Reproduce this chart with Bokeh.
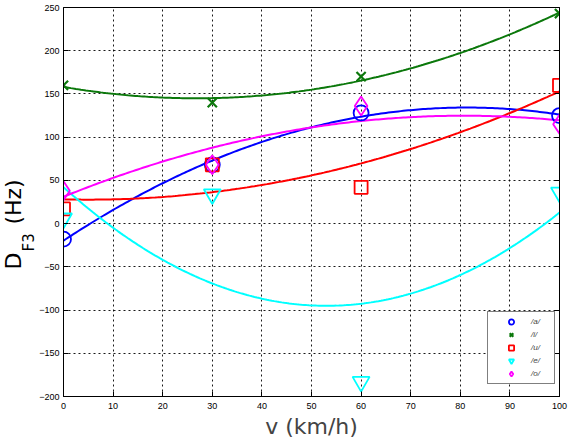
import numpy as np

from bokeh.plotting import figure
from bokeh.models import (Legend, LegendItem, LinearAxis, Range1d, Title,
                          FixedTicker, CustomJSTickFormatter)
from bokeh.embed import file_html
from bokeh.resources import INLINE

# Measured third-formant deviation (Hz) against vehicle speed (km/h)
speed = [0, 30, 60, 100]
d_a = [-18, 68, 128, 125]
d_i = [160, 140, 170, 243]
d_u = [17, 68, 42, 160]
d_e = [6, 34, -183, 36]
d_o = [38, 68, 136, 115]

vowels = ["/a/", "/i/", "/u/", "/e/", "/o/"]
x_ticks = list(range(0, 101, 10))
y_ticks = list(range(-200, 251, 50))

series = [
    (vowels[0], d_a, "#0000ff", "circle", 15),
    (vowels[1], d_i, "#0b780b", "x", 13),
    (vowels[2], d_u, "#ff0000", "square", 13),
    (vowels[3], d_e, "#00ffff", "inverted_triangle", 17),
    (vowels[4], d_o, "#ff00ff", "diamond", 19),
]

TICK_FONT = "Liberation Sans"
LABEL_FONT = "DejaVu Sans"

p = figure(width=570, height=441,
           x_range=Range1d(0, 100), y_range=Range1d(-200, 250),
           output_backend="svg", toolbar_location=None,
           min_border_left=63, min_border_right=11,
           min_border_top=7, min_border_bottom=44)
p.background_fill_color = "white"
p.border_fill_color = "white"
p.outline_line_color = "black"
p.outline_line_width = 1

# axes: inward ticks, small labels
p.xaxis.ticker = FixedTicker(ticks=x_ticks)
p.yaxis.ticker = FixedTicker(ticks=y_ticks)
for ax in (p.xaxis, p.yaxis):
    ax.major_tick_in = 5
    ax.major_tick_out = 0
    ax.minor_tick_in = 0
    ax.minor_tick_out = 0
    ax.axis_line_color = "black"
    ax.major_tick_line_color = "black"
    ax.major_label_text_font = TICK_FONT
    ax.major_label_text_font_size = "9px"
    ax.major_label_text_color = "black"
p.xaxis.major_label_standoff = 6
p.yaxis.major_label_standoff = 4

p.xaxis.axis_label = "v (km/h)"
p.xaxis.axis_label_text_font = LABEL_FONT
p.xaxis.axis_label_text_font_size = "22px"
p.xaxis.axis_label_text_font_style = "normal"
p.xaxis.axis_label_standoff = 2

# tick marks on the right edge of the box
right = LinearAxis(ticker=FixedTicker(ticks=y_ticks),
                   formatter=CustomJSTickFormatter(code="return ''"),
                   major_tick_in=5, major_tick_out=0,
                   minor_tick_in=0, minor_tick_out=0,
                   major_label_standoff=0,
                   axis_line_color="black")
p.add_layout(right, "right")

# dotted grid
p.grid.grid_line_color = "black"
p.grid.grid_line_dash = "2 3"
p.grid.grid_line_width = 1
p.grid.grid_line_alpha = 0.9
p.xgrid.ticker = FixedTicker(ticks=x_ticks)
p.ygrid.ticker = FixedTicker(ticks=y_ticks)

# second-order least-squares fit per vowel, plus the measured points
xs = np.linspace(0, 100, 201)
items = []
for name, vals, color, marker, size in series:
    coef = np.polyfit(speed, vals, 2)
    p.line(xs, np.polyval(coef, xs), line_color=color, line_width=2)
for name, vals, color, marker, size in series:
    r = p.scatter(speed, vals, marker=marker, size=size,
                  line_color=color, fill_color=None,
                  line_width=2.2 if marker == "x" else 1.8)
    items.append(LegendItem(label=name, renderers=[r]))

legend = Legend(items=items, location=(424, 12),
                label_text_font=TICK_FONT, label_text_font_size="8px",
                label_text_font_style="italic",
                glyph_height=13, glyph_width=40, label_height=13,
                label_width=20, label_standoff=0, spacing=0,
                padding=3, margin=0,
                border_line_color="black", border_line_width=1,
                background_fill_color="white", background_fill_alpha=1)
p.add_layout(legend)

# y-axis title: subscript column next to the axis, main text further out
sub = Title(text="F3", align="left", offset=145, standoff=-3,
            text_font=LABEL_FONT, text_font_size="15px",
            text_font_style="normal", text_color="black")
main = Title(text="D\u00a0\u00a0\u00a0\u00a0(Hz)", align="left", offset=127,
             standoff=-12, text_font=LABEL_FONT, text_font_size="22px",
             text_font_style="normal", text_color="black")
p.add_layout(sub, "left")
p.add_layout(main, "left")

open("out.html", "w").write(file_html(p, INLINE))
